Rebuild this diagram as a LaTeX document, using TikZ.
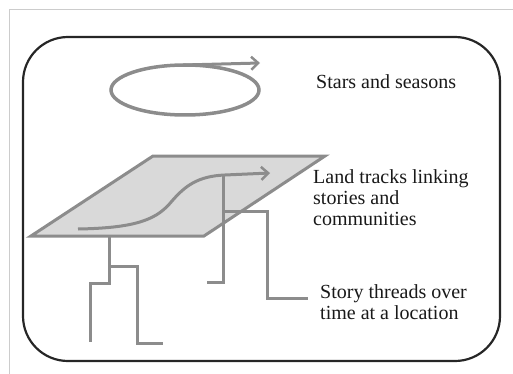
\documentclass[tikz,border=0pt]{standalone}
\usepackage{fontspec}
\setmainfont{Liberation Serif}
\usetikzlibrary{arrows.meta}

\definecolor{threadgray}{RGB}{140,140,140}
\definecolor{landfill}{RGB}{217,217,217}
\tikzset{
  thread/.style={draw=threadgray, line width=3pt},
  tracktip/.style={-{Straight Barb[length=7pt,width=13pt,line width=2.5pt]}},
  caption/.style={anchor=north west, inner sep=0pt, align=left, text=black!90,
    font=\fontsize{20}{21}\selectfont},
}

\begin{document}
\begin{tikzpicture}[x=1pt, y=-1pt]
        \useasboundingbox (0,0) rectangle (513,374);

        % Page frame and rounded box
        \draw[black!20, line width=0.8pt] (9.5,374) -- (9.5,9.5) -- (513,9.5);
        \draw[black!85, line width=2.2pt, rounded corners=45pt] (23,37) rectangle (500,361);

        % Stars and seasons
        \draw[thread, line width=3.5pt] (185,90) ellipse [x radius=74pt, y radius=25pt];
        \coordinate (cycle start) at (183,65);
        \coordinate (cycle end) at (260,63);
        \draw[thread, tracktip] (cycle start) -- (cycle end);
        \node[caption, anchor=base west] (stars) at (316,89) {Stars and seasons};

        % Land surface
        \coordinate (land nw) at (153,156);
        \coordinate (land ne) at (325,156);
        \coordinate (land se) at (204,236);
        \coordinate (land sw) at (31,236);
        \draw[thread, fill=landfill, line join=miter]
            (land nw) -- (land ne) -- (land se) -- (land sw) -- cycle;

        % Track across the land
        \coordinate (track start) at (78,229);
        \coordinate (track end) at (270,173);
        \draw[thread, tracktip] (track start)
            .. controls (140,228) and (158,218) .. (172,201)
            .. controls (185,186) and (198,176) .. (225,175) -- (track end);
        \node[caption] (land) at (313,169) {Land tracks linking\\stories and\\communities};

        % Story threads (left)
        \coordinate (left top) at (109,236);
        \coordinate (left fork) at (109,266);
        \draw[thread] (left top) -- (109,283) -- (90,283) -- (90,342);
        \draw[thread] (left fork) -- (137,266) -- (137,343) -- (163,343);

        % Story threads (right)
        \coordinate (right top) at (223,175);
        \coordinate (right fork) at (223,211);
        \draw[thread] (right top) -- (223,282) -- (207,282);
        \draw[thread] (right fork) -- (267,211) -- (267,298) -- (308,298);
        \node[caption] (story) at (320,284) {Story threads over\\time at a location};
\end{tikzpicture}
\end{document}
